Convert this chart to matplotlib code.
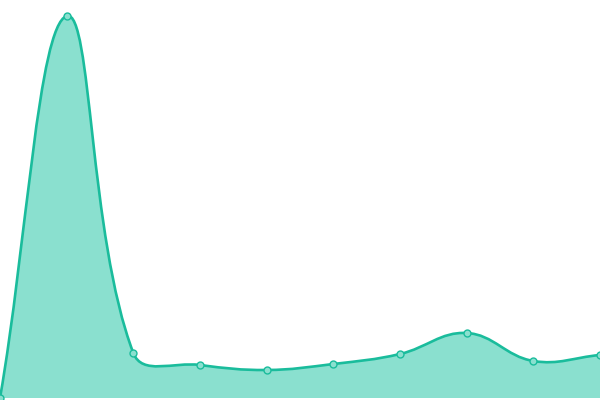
import numpy as np
import matplotlib
matplotlib.use("Agg")
import matplotlib.pyplot as plt
from matplotlib.path import Path
from matplotlib.patches import PathPatch

# values
x_idx = list(range(10))
values = [0, 382, 45, 33, 28, 34, 44, 65, 37, 43]

line_color = "#1abc9c"
fill_color = "#8ae0cf"

fig = plt.figure(figsize=(6, 4), dpi=100)
ax = fig.add_axes([0, 0, 1, 1])
ax.set_xlim(0, 9)
ax.set_ylim(-2, 398)
ax.axis("off")

# spline control points in pixel space (tension 0.4)
pts = ax.transData.transform(np.column_stack([x_idx, values]))
tension = 0.4
n = len(pts)
cps = []
for i in range(n):
    prev = pts[max(i - 1, 0)]
    cur = pts[i]
    nxt = pts[min(i + 1, n - 1)]
    d01 = np.hypot(*(cur - prev))
    d12 = np.hypot(*(nxt - cur))
    tot = d01 + d12
    s01 = d01 / tot if tot else 0
    s12 = d12 / tot if tot else 0
    c_prev = cur - tension * s01 * (nxt - prev)
    c_next = cur + tension * s12 * (nxt - prev)
    cps.append((c_prev, c_next))

verts = [pts[0]]
codes = [Path.MOVETO]
for i in range(n - 1):
    verts += [cps[i][1], cps[i + 1][0], pts[i + 1]]
    codes += [Path.CURVE4] * 3

inv = ax.transData.inverted()
data_verts = inv.transform(np.array(verts))

line_path = Path(data_verts, codes)
fill_verts = np.vstack([data_verts, [[9, 0], [0, 0], data_verts[0]]])
fill_codes = codes + [Path.LINETO, Path.LINETO, Path.CLOSEPOLY]
fill_path = Path(fill_verts, fill_codes)

ax.add_patch(PathPatch(fill_path, facecolor=fill_color, edgecolor="none"))
ax.add_patch(PathPatch(line_path, facecolor="none", edgecolor=line_color, lw=1.9))
ax.plot(x_idx, values, "o", ms=5, mfc=fill_color, mec=line_color, mew=1, clip_on=False)

fig.savefig("out.png", dpi=100)
